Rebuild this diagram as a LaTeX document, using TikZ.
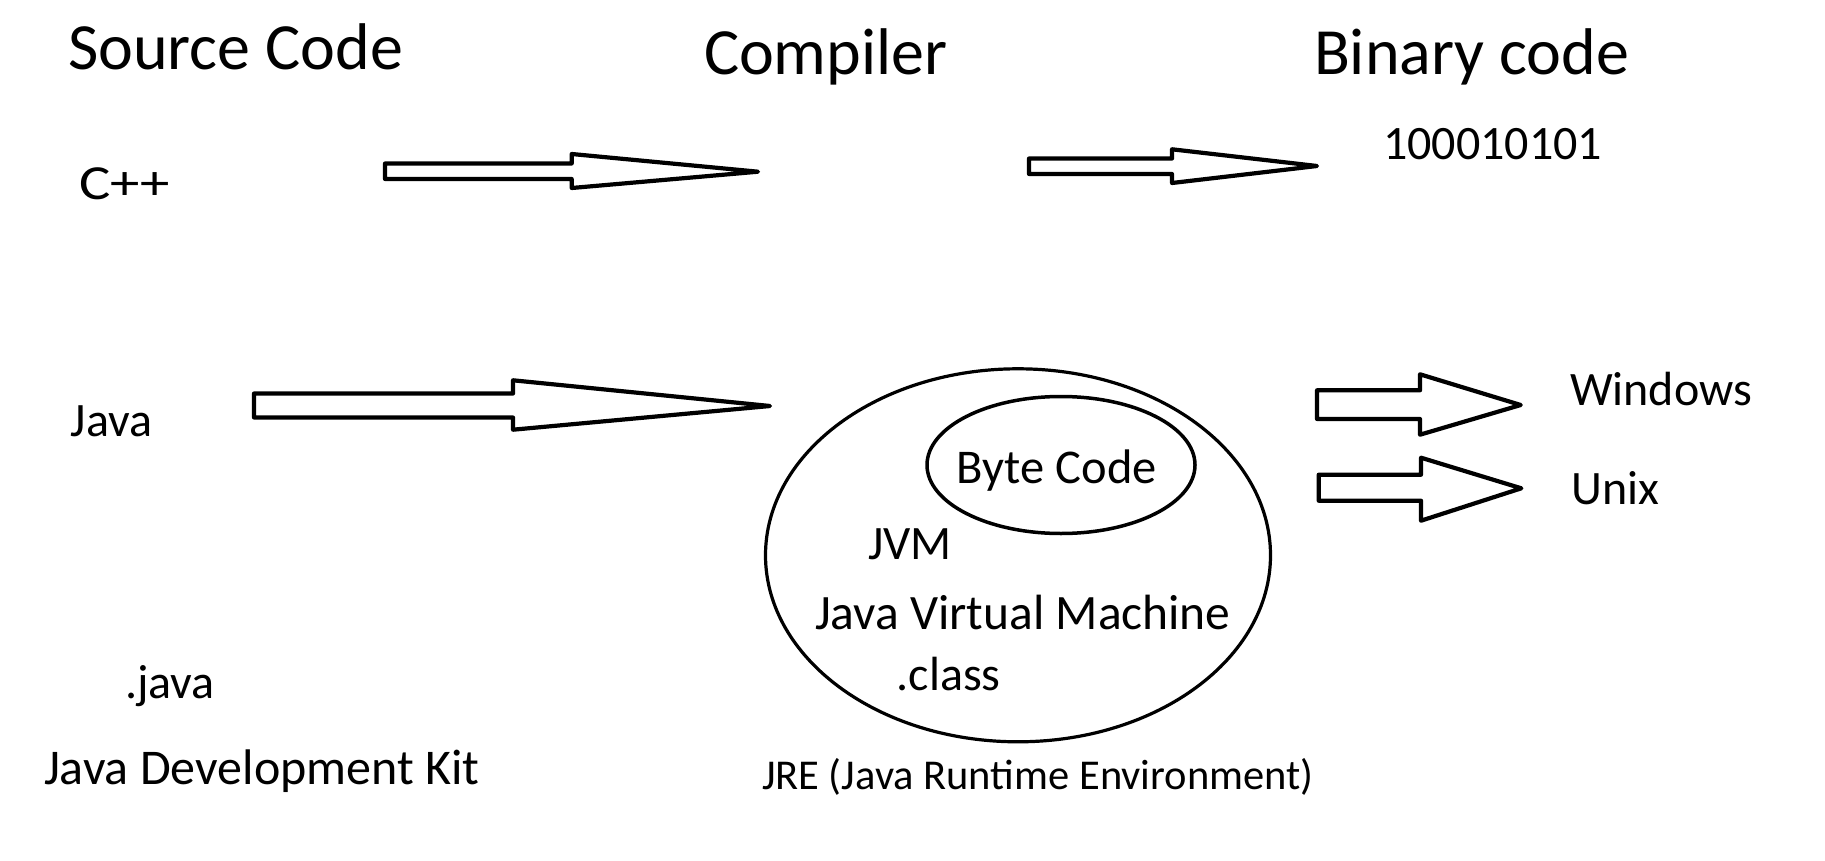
\documentclass[tikz,border=0pt]{standalone}
\usepackage{fontspec}
\setmainfont{Carlito}
\usetikzlibrary{shapes.geometric}
\tikzset{
  lbl/.style={anchor=base west, inner sep=0pt, outer sep=0pt, font=\fontsize{48}{58}\selectfont},
  title/.style={lbl, font=\fontsize{66}{78}\selectfont},
  small/.style={lbl, font=\fontsize{42.5}{50}\selectfont},
  blockarrow/.style={draw=black, line width=4.2pt, line join=round, fill=white},
  oval/.style={ellipse, draw=black, inner sep=0pt, outer sep=0pt},
}
\begin{document}
\begin{tikzpicture}[x=1pt,y=-1pt]
\useasboundingbox[fill=white] (0,0) rectangle (1825,861);

% titles
\node[title] (src) at (68,70) {Source Code};
\node[title] (comp) at (704,75) {Compiler};
\node[title] (bin) at (1314,75) {Binary code};

% left column
\node[lbl, font=\fontsize{49}{58}\selectfont] (cpp) at (79,199.3) {\scalebox{1.2}[1]{C++}};
\node[lbl] (java) at (70.7,436.7) {Java};
\node[lbl] (dotjava) at (125,698.3) {.java};
\node[lbl, font=\fontsize{50}{58}\selectfont] (jdk) at (44,784) {Java Development Kit};

% binary
\node[lbl] (bits) at (1383,159.3) {100010101};

% JRE ovals
\node[oval, line width=3.2pt, minimum width=505pt, minimum height=373pt] (jre) at (1018,555.3) {};
\node[oval, line width=3.5pt, minimum width=268pt, minimum height=137pt] (bc) at (1061,465) {};
\node[lbl, font=\fontsize{48.5}{58}\selectfont] (bytecode) at (956.7,483.3) {Byte Code};
\node[lbl] (jvm) at (868.3,559.3) {JVM};
\node[lbl, font=\fontsize{49.5}{58}\selectfont] (jvmfull) at (815,629.3) {Java Virtual Machine};
\node[lbl] (class) at (896.7,690) {.class};
\node[small] (jrelbl) at (762,789) {JRE (Java Runtime Environment)};

% platforms
\node[lbl] (win) at (1570,405) {Windows};
\node[lbl] (unix) at (1571.7,504) {Unix};

% block arrows
\draw[blockarrow] (385,163.5) -- (571.7,163.5) -- (571.7,154) -- (758,171.7) -- (571.7,188) -- (571.7,179) -- (385,179) -- cycle;
\draw[blockarrow] (1029,158.5) -- (1172,158.5) -- (1172,149.3) -- (1317,166) -- (1172,183) -- (1172,174) -- (1029,174) -- cycle;
\draw[blockarrow] (254,393.5) -- (513,393.5) -- (513,380.3) -- (770,406) -- (513,429.7) -- (513,417.5) -- (254,417.5) -- cycle;
\draw[blockarrow] (1317,390.3) -- (1420,390.3) -- (1420,374.3) -- (1520.7,405) -- (1420,434.7) -- (1420,419) -- (1317,419) -- cycle;
\draw[blockarrow] (1318.7,474.7) -- (1421,474.7) -- (1421,457.7) -- (1521.3,488.3) -- (1421,520.7) -- (1421,500.7) -- (1318.7,500.7) -- cycle;
\end{tikzpicture}
\end{document}
